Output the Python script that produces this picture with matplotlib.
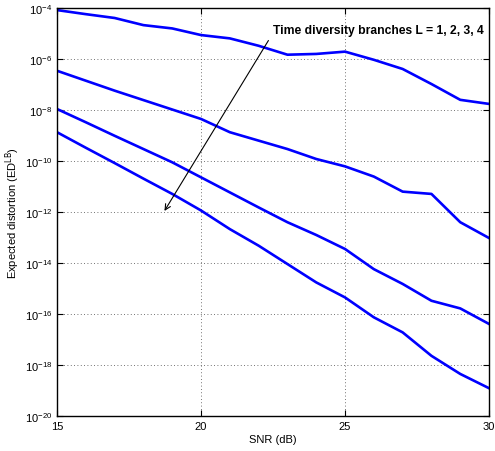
import matplotlib
matplotlib.use("Agg")
import matplotlib.pyplot as plt
import numpy as np

plt.rcParams["font.family"] = ["Liberation Sans", "DejaVu Sans"]

# SNR in dB
snr = list(range(15, 31))

# log10 of expected distortion
log_ed_L1 = [-4.08, -4.24, -4.39, -4.67, -4.80, -5.06, -5.19, -5.48,
             -5.83, -5.80, -5.71, -6.03, -6.39, -6.98, -7.60, -7.76]
log_ed_L2 = [-6.46, -6.85, -7.24, -7.61, -7.98, -8.35, -8.87, -9.20,
             -9.53, -9.92, -10.21, -10.61, -11.20, -11.29, -12.40, -13.02]
log_ed_L3 = [-7.96, -8.48, -9.01, -9.53, -10.05, -10.64, -11.23, -11.82,
             -12.40, -12.90, -13.45, -14.24, -14.82, -15.48, -15.78, -16.39]
log_ed_L4 = [-8.87, -9.48, -10.08, -10.69, -11.29, -11.94, -12.67, -13.32,
             -14.04, -14.76, -15.35, -16.13, -16.72, -17.64, -18.35, -18.91]

series = [log_ed_L1, log_ed_L2, log_ed_L3, log_ed_L4]

fig = plt.figure(figsize=(4.95, 4.52), dpi=100)
ax = fig.add_axes([0.1152, 0.0774, 0.8728, 0.9026])

for s in series:
    ax.semilogy(snr, 10.0 ** np.array(s), color="#0000ff", linewidth=1.9)

ax.set_xlim(15, 30)
ax.set_ylim(1e-20, 1e-4)
ax.set_xticks([15, 20, 25, 30])
ax.set_yticks([10.0 ** e for e in range(-20, -3, 2)])
ax.yaxis.set_minor_locator(matplotlib.ticker.NullLocator())
ax.tick_params(direction="in", top=True, right=True, labelsize=8, length=4)
ax.grid(True, which="major", linestyle=(0, (1, 3)), color="#444444", linewidth=0.6)
for sp in ax.spines.values():
    sp.set_linewidth(1.0)

ax.set_xlabel("SNR (dB)", fontsize=8, labelpad=2)
ax.set_ylabel("Expected distortion (ED$^{\\mathrm{LB}}$)", fontsize=8, labelpad=2)

ax.annotate("", xy=(18.68, 10 ** -12.05), xytext=(22.39, 10 ** -5.18),
            arrowprops=dict(arrowstyle="->", color="black", linewidth=0.8))
ax.text(22.5, 10 ** -4.85, "Time diversity branches L = 1, 2, 3, 4",
        fontsize=8.7, fontweight="bold", ha="left", va="center")

fig.savefig("out.png", dpi=100)
